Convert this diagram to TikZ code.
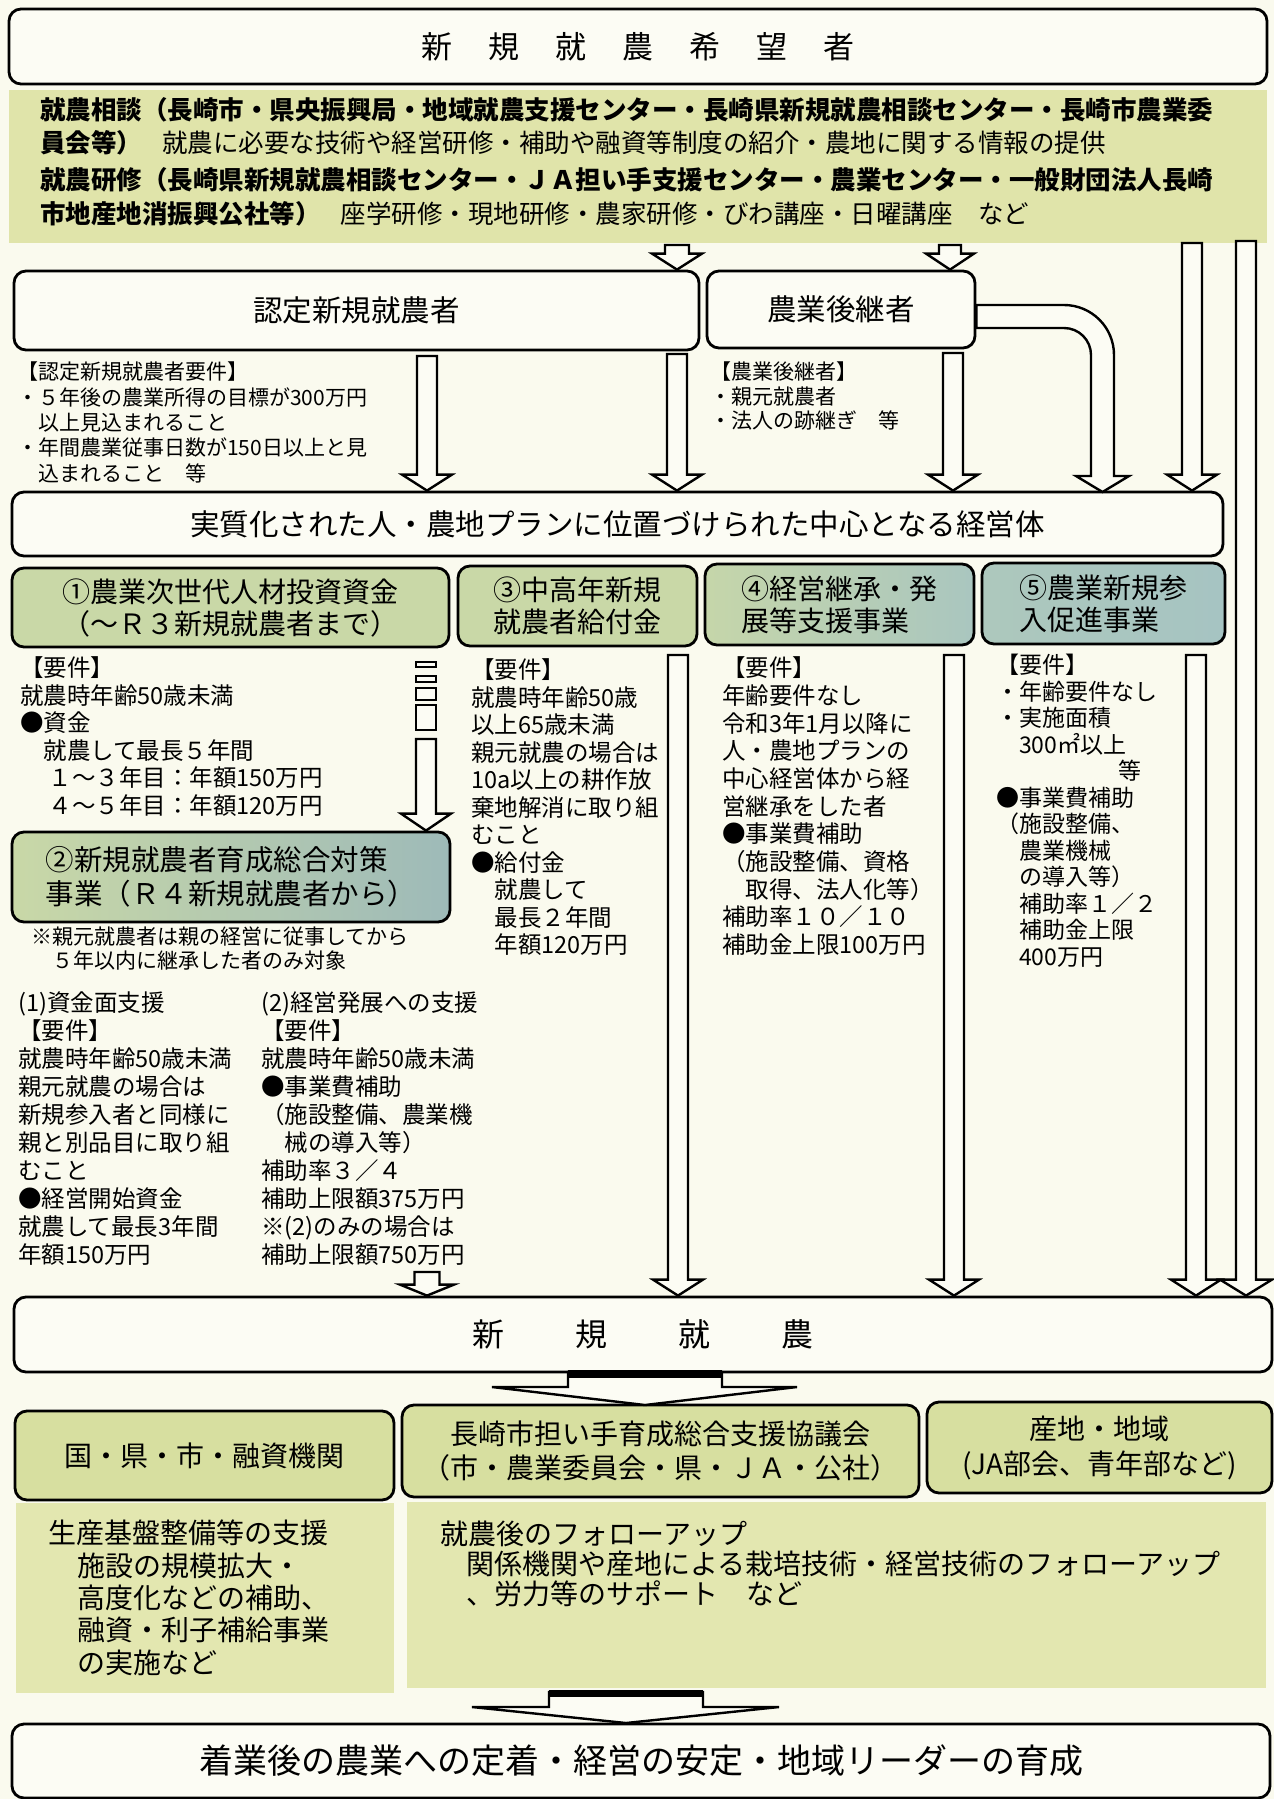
\documentclass[tikz,border=0pt]{standalone}
\usepackage{fontspec}
\setmainfont{Noto Sans CJK JP}
\usetikzlibrary{calc}
\newcommand\fs[2]{\fontsize{#1}{#2}\selectfont}
\definecolor{bgc}{HTML}{FAFAEE}
\definecolor{boxc}{HTML}{FCFCF4}
\definecolor{band}{HTML}{E0E4AA}
\definecolor{hdrg}{HTML}{C9D8A7}
\definecolor{tealc}{HTML}{A6C4C2}
\definecolor{botbox}{HTML}{D7DFA0}
\definecolor{botband}{HTML}{E3E7B0}
% hollow block arrow: #1 start coordinate, #2 coordinate giving tip y, #3 shaft half width, #4 head half width, #5 head length
\newcommand\blockarr[5]{%
  \draw[harrow] ($(#1)+(-#3,0)$) -- ($(#1|-#2)+(-#3,-#5)$) -- ($(#1|-#2)+(-#4,-#5)$) -- (#1|-#2)
    -- ($(#1|-#2)+(#4,-#5)$) -- ($(#1|-#2)+(#3,-#5)$) -- ($(#1)+(#3,0)$) -- cycle;}
\begin{document}
\begin{tikzpicture}[x=1pt,y=-1pt,
  box/.style={draw=black,line width=2.8pt,rounded corners=12pt,inner sep=0pt,align=center,fill=boxc},
  harrow/.style={draw=black,line width=2.4pt,fill=boxc,line join=miter},
  body/.style={anchor=north west,inner sep=0pt,align=left,execute at begin node={\rule{0pt}{0.95em}}},
  hdr/.style={font=\fs{28}{32}}]
\useasboundingbox (0,0) rectangle (1274,1799);
\fill[bgc] (0,0) rectangle (1274,1799);

% top title
\node[box,minimum width=1258pt,minimum height=75pt,font=\fs{31}{31}] (hope) at (638,46.5)
  {新\hspace{36pt}規\hspace{36pt}就\hspace{36pt}農\hspace{36pt}希\hspace{36pt}望\hspace{36pt}者};

% green band
\node[fill=band,inner sep=0pt,minimum width=1258pt,minimum height=153pt] (band) at (638,166.5) {};
\node[body,font=\fs{25.5}{33}] (bandt1) at (40,97.5)
  {\textbf{就農相談（長崎市・県央振興局・地域就農支援センター・長崎県新規就農相談センター・長崎市農業委}\\
   \textbf{員会等）}\hspace*{20pt}就農に必要な技術や経営研修・補助や融資等制度の紹介・農地に関する情報の提供};
\node[body,font=\fs{25.5}{34}] (bandt2) at (40,167.5)
  {\textbf{就農研修（長崎県新規就農相談センター・ＪＡ担い手支援センター・農業センター・一般財団法人長崎}\\
   \textbf{市地産地消振興公社等）}\hspace*{20pt}座学研修・現地研修・農家研修・びわ講座・日曜講座　など};

% second row boxes
\node[box,minimum width=685pt,minimum height=79pt,font=\fs{29.5}{30}] (nintei) at (356.5,310.5) {認定新規就農者};
\node[box,minimum width=268pt,minimum height=77pt,font=\fs{29.5}{30}] (kokei) at (841,309.5) {農業後継者};

\node[body,font=\fs{21}{25.3}] (reqA) at (17,362)
  {【認定新規就農者要件】\\・５年後の農業所得の目標が300万円\\　以上見込まれること\\・年間農業従事日数が150日以上と見\\　込まれること　等};
\node[body,font=\fs{21}{24.5}] (reqB) at (710,362)
  {【農業後継者】\\・親元就農者\\・法人の跡継ぎ　等};

% central box
\node[box,minimum width=1211pt,minimum height=64pt,font=\fs{29.5}{30}] (chushin) at (617.5,524)
  {実質化された人・農地プランに位置づけられた中心となる経営体};

% program boxes
\node[box,hdr,fill=hdrg,minimum width=437pt,minimum height=79pt] (p1) at (230.5,607.5)
  {①農業次世代人材投資資金\\（～Ｒ３新規就農者まで）};
\node[box,hdr,fill=hdrg,minimum width=239pt,minimum height=80pt] (p3) at (577.5,606)
  {③中高年新規\\就農者給付金};
\node[box,hdr,align=left,left color=hdrg!90!tealc,right color=tealc!90!hdrg,minimum width=269pt,minimum height=81pt] (p4) at (839.5,604.5)
  {④経営継承・発\\展等支援事業};
\node[box,hdr,align=left,left color=tealc!80!hdrg,right color=tealc,minimum width=243pt,minimum height=81pt] (p5) at (1103.5,603.5)
  {⑤農業新規参\\入促進事業};
\node[box,font=\fs{28.5}{34},align=left,left color=hdrg,right color=tealc!95!black,minimum width=438pt,minimum height=90pt] (p2) at (231,877)
  {②新規就農者育成総合対策\\事業（Ｒ４新規就農者から）};

% requirement texts
\node[body,font=\fs{23.5}{27.5}] (req1) at (20,656.6)
  {【要件】\\就農時年齢50歳未満\\●資金\\　就農して最長５年間\\　\hspace*{5pt}１～３年目：年額150万円\\　\hspace*{5pt}４～５年目：年額120万円};
\node[body,font=\fs{21}{24}] (note2) at (31,927)
  {※親元就農者は親の経営に従事してから\\　５年以内に継承した者のみ対象};
\node[body,font=\fs{23.5}{28}] (col1) at (18,991.6)
  {(1)資金面支援\\【要件】\\就農時年齢50歳未満\\親元就農の場合は\\新規参入者と同様に\\親と別品目に取り組\\むこと\\●経営開始資金\\就農して最長3年間\\年額150万円};
\node[body,font=\fs{23.5}{28}] (col2) at (261,991.6)
  {(2)経営発展への支援\\【要件】\\就農時年齢50歳未満\\●事業費補助\\（施設整備、農業機\\　械の導入等）\\補助率３／４\\補助上限額375万円\\※(2)のみの場合は\\補助上限額750万円};
\node[body,font=\fs{23.5}{27.5}] (req3) at (471,658.6)
  {【要件】\\就農時年齢50歳\\以上65歳未満\\親元就農の場合は\\10a以上の耕作放\\棄地解消に取り組\\むこと\\●給付金\\　就農して\\　最長２年間\\　年額120万円};
\node[body,font=\fs{23.5}{27.7}] (req4) at (722,656.6)
  {【要件】\\年齢要件なし\\令和3年1月以降に\\人・農地プランの\\中心経営体から経\\営継承をした者\\●事業費補助\\（施設整備、資格\\　取得、法人化等）\\補助率１０／１０\\補助金上限100万円};
\node[body,font=\fs{23}{26.5}] (req5) at (996,654)
  {【要件】\\・年齢要件なし\\・実施面積\\　300㎡以上\\\hspace*{5.3em}等\\●事業費補助\\（施設整備、\\　農業機械\\　の導入等）\\　補助率１／２\\　補助金上限\\　400万円};

% new farming box
\node[box,minimum width=1258pt,minimum height=75pt,font=\fs{32}{32}] (shinki) at (643,1334.5)
  {新\hspace{71pt}規\hspace{71pt}就\hspace{71pt}農};

% bottom boxes
\node[box,fill=botbox,minimum width=379pt,minimum height=89pt,font=\fs{28}{34}] (kuni) at (204.5,1455.5) {国・県・市・融資機関};
\node[box,fill=botbox,minimum width=517pt,minimum height=92pt,font=\fs{28}{34}] (kyogi) at (660.5,1451)
  {長崎市担い手育成総合支援協議会\\（市・農業委員会・県・ＪＡ・公社）};
\node[box,fill=botbox,minimum width=345pt,minimum height=91pt,font=\fs{28}{35}] (sanchi) at (1099.5,1447.5)
  {産地・地域\\(JA部会、青年部など)};

\node[fill=botband,inner sep=0pt,minimum width=378pt,minimum height=190pt] (gl) at (205,1598) {};
\node[fill=botband,inner sep=0pt,minimum width=859pt,minimum height=186pt] (gr) at (836.5,1595) {};
\node[body,font=\fs{28}{32.3}] (glt) at (48,1520)
  {生産基盤整備等の支援\\\hspace*{29pt}施設の規模拡大・\\\hspace*{29pt}高度化などの補助、\\\hspace*{29pt}融資・利子補給事業\\\hspace*{29pt}の実施など};
\node[body,font=\fs{28}{30}] (grt) at (440,1521)
  {就農後のフォローアップ\\\hspace*{26pt}関係機関や産地による栽培技術・経営技術のフォローアップ\\\hspace*{26pt}、労力等のサポート　など};

\node[box,minimum width=1258pt,minimum height=74pt,font=\fs{34}{34}] (final) at (641,1761)
  {着業後の農業への定着・経営の安定・地域リーダーの育成};

% ---------- arrows ----------
\coordinate (ta1) at (677,245);
\coordinate (ta2) at (950,245);
\blockarr{ta1}{nintei.north}{12}{25}{16}
\blockarr{ta2}{kokei.north}{11}{24}{16}

\coordinate (na1) at (427,356);
\coordinate (na2) at (677,354);
\coordinate (ka1) at (953,353);
\coordinate (ra1) at (1192,243);
\coordinate (lb1) at (1246,241);
\blockarr{na1}{chushin.north}{10}{25}{16}
\blockarr{na2}{chushin.north}{10}{25}{16}
\blockarr{ka1}{chushin.north}{10}{25}{16}
\blockarr{ra1}{chushin.north}{10}{25}{16}
\blockarr{lb1}{shinki.north}{10}{26}{16}

% curved arrow from 農業後継者
\draw[harrow] (kokei.east|-0,305) -- (1064,305) arc[start angle=-90,end angle=0,radius=50]
  -- (1114,476) -- (1129,476) -- (1102.5,492) -- (1076,476) -- (1091,476) -- (1091,355)
  arc[start angle=0,end angle=-90,radius=27] -- (kokei.east|-0,328) -- cycle;

% dashed-style connector p1 -> p2
\coordinate (d0) at (426,662);
\draw[harrow,line width=2pt] ($(d0)+(-10,0)$) rectangle ($(d0)+(10,5)$);
\draw[harrow,line width=2pt] ($(d0)+(-10,14)$) rectangle ($(d0)+(10,20)$);
\draw[harrow,line width=2pt] ($(d0)+(-10,26)$) rectangle ($(d0)+(10,38)$);
\draw[harrow,line width=2pt] ($(d0)+(-10,43)$) rectangle ($(d0)+(10,68)$);
\coordinate (d1) at (426,739);
\blockarr{d1}{p2.north}{10}{25}{17}

% program arrows to shinki
\coordinate (pa3) at (678,655);
\coordinate (pa4) at (954,655);
\coordinate (pa5) at (1196,655);
\blockarr{pa3}{shinki.north}{10}{25}{16}
\blockarr{pa4}{shinki.north}{10}{25}{16}
\blockarr{pa5}{shinki.north}{10}{25}{16}
\coordinate (pa2) at (427,1272);
\blockarr{pa2}{shinki.north}{12.5}{27}{11}

% big arrows
\draw[harrow] (568,1372) -- (568,1387) -- (492,1387) -- (645,1405) -- (797,1387) -- (722,1387) -- (722,1372) -- cycle;
\fill[black] (568,1370) rectangle (722,1378);
\draw[harrow] (549,1692) -- (549,1707) -- (472,1707) -- (626,1723) -- (779,1707) -- (703,1707) -- (703,1692) -- cycle;
\fill[black] (549,1690) rectangle (703,1697);
\end{tikzpicture}
\end{document}
